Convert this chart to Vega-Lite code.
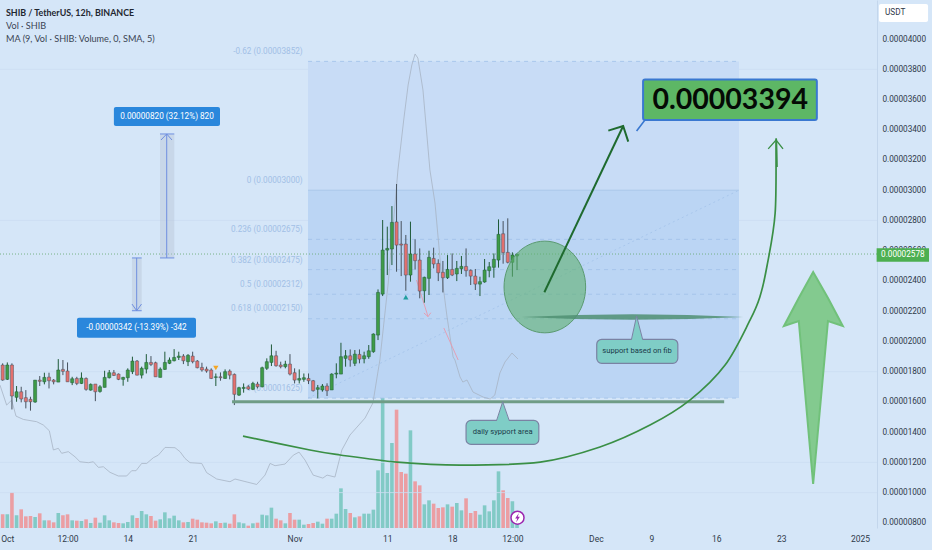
{"$schema":"https://vega.github.io/schema/vega-lite/v6.json","width":877,"height":528,"autosize":"none","padding":{"left":0,"top":0,"right":55,"bottom":22},"background":"#d5e6f8","config":{"view":{"stroke":null},"axis":{"labelOverlap":false}},
"datasets":{
"candles":[
{"t":0,"o":1844,"h":1855,"l":1740,"c":1744,"v":41},{"t":1,"o":1749,"h":1861,"l":1745,"c":1844,"v":41},{"t":2,"o":1844,"h":1855,"l":1550,"c":1639,"v":106},{"t":3,"o":1630,"h":1705,"l":1601,"c":1667,"v":38},{"t":4,"o":1667,"h":1700,"l":1597,"c":1619,"v":56},{"t":5,"o":1628,"h":1678,"l":1557,"c":1601,"v":35},{"t":6,"o":1617,"h":1634,"l":1542,"c":1601,"v":36},{"t":7,"o":1599,"h":1744,"l":1594,"c":1744,"v":33},{"t":8,"o":1744,"h":1771,"l":1705,"c":1736,"v":44},{"t":9,"o":1733,"h":1793,"l":1716,"c":1762,"v":23},
{"t":10,"o":1764,"h":1793,"l":1689,"c":1740,"v":23},{"t":11,"o":1744,"h":1751,"l":1716,"c":1733,"v":17},{"t":12,"o":1731,"h":1883,"l":1731,"c":1811,"v":45},{"t":13,"o":1815,"h":1877,"l":1777,"c":1802,"v":38},{"t":14,"o":1804,"h":1861,"l":1733,"c":1733,"v":41},{"t":15,"o":1727,"h":1766,"l":1711,"c":1753,"v":23},{"t":16,"o":1755,"h":1766,"l":1711,"c":1722,"v":22},{"t":17,"o":1722,"h":1795,"l":1718,"c":1758,"v":21},{"t":18,"o":1755,"h":1762,"l":1674,"c":1683,"v":26},{"t":19,"o":1678,"h":1722,"l":1674,"c":1716,"v":15},
{"t":20,"o":1718,"h":1718,"l":1605,"c":1667,"v":31},{"t":21,"o":1669,"h":1711,"l":1661,"c":1700,"v":16},{"t":22,"o":1696,"h":1806,"l":1696,"c":1762,"v":38},{"t":23,"o":1760,"h":1811,"l":1755,"c":1793,"v":23},{"t":24,"o":1793,"h":1811,"l":1771,"c":1775,"v":17},{"t":25,"o":1784,"h":1788,"l":1744,"c":1749,"v":15},{"t":26,"o":1749,"h":1766,"l":1707,"c":1762,"v":14},{"t":27,"o":1760,"h":1822,"l":1733,"c":1811,"v":18},{"t":28,"o":1800,"h":1899,"l":1784,"c":1870,"v":38},{"t":29,"o":1870,"h":1877,"l":1775,"c":1777,"v":30},
{"t":30,"o":1777,"h":1833,"l":1755,"c":1822,"v":51},{"t":31,"o":1817,"h":1916,"l":1788,"c":1861,"v":41},{"t":32,"o":1861,"h":1903,"l":1837,"c":1848,"v":36},{"t":33,"o":1859,"h":1866,"l":1766,"c":1766,"v":22},{"t":34,"o":1762,"h":1828,"l":1762,"c":1817,"v":26},{"t":35,"o":1815,"h":1932,"l":1811,"c":1861,"v":47},{"t":36,"o":1855,"h":1894,"l":1850,"c":1877,"v":29},{"t":37,"o":1872,"h":1949,"l":1868,"c":1894,"v":37},{"t":38,"o":1894,"h":1932,"l":1877,"c":1903,"v":23},{"t":39,"o":1903,"h":1916,"l":1850,"c":1872,"v":17},
{"t":40,"o":1866,"h":1916,"l":1837,"c":1908,"v":18},{"t":41,"o":1903,"h":1932,"l":1855,"c":1866,"v":28},{"t":42,"o":1870,"h":1877,"l":1822,"c":1826,"v":25},{"t":43,"o":1828,"h":1859,"l":1800,"c":1811,"v":17},{"t":44,"o":1817,"h":1833,"l":1793,"c":1804,"v":16},{"t":45,"o":1811,"h":1822,"l":1751,"c":1755,"v":14},{"t":46,"o":1762,"h":1788,"l":1705,"c":1766,"v":20},{"t":47,"o":1766,"h":1795,"l":1740,"c":1760,"v":15},{"t":48,"o":1755,"h":1815,"l":1753,"c":1800,"v":16},{"t":49,"o":1804,"h":1815,"l":1749,"c":1777,"v":13},
{"t":50,"o":1782,"h":1788,"l":1579,"c":1650,"v":41},{"t":51,"o":1645,"h":1700,"l":1639,"c":1694,"v":17},{"t":52,"o":1689,"h":1722,"l":1661,"c":1696,"v":14},{"t":53,"o":1700,"h":1711,"l":1678,"c":1685,"v":7},{"t":54,"o":1683,"h":1733,"l":1678,"c":1722,"v":14},{"t":55,"o":1718,"h":1733,"l":1689,"c":1700,"v":16},{"t":56,"o":1700,"h":1833,"l":1696,"c":1826,"v":40},{"t":57,"o":1822,"h":1888,"l":1811,"c":1866,"v":38},{"t":58,"o":1861,"h":1980,"l":1837,"c":1905,"v":61},{"t":59,"o":1905,"h":1938,"l":1833,"c":1839,"v":28},
{"t":60,"o":1844,"h":1866,"l":1822,"c":1833,"v":23},{"t":61,"o":1833,"h":1872,"l":1822,"c":1850,"v":14},{"t":62,"o":1850,"h":1916,"l":1775,"c":1784,"v":45},{"t":63,"o":1793,"h":1822,"l":1722,"c":1744,"v":25},{"t":64,"o":1744,"h":1815,"l":1722,"c":1755,"v":25},{"t":65,"o":1749,"h":1788,"l":1733,"c":1760,"v":10},{"t":66,"o":1755,"h":1788,"l":1718,"c":1740,"v":12},{"t":67,"o":1740,"h":1745,"l":1668,"c":1674,"v":15},{"t":68,"o":1683,"h":1712,"l":1623,"c":1694,"v":19},{"t":69,"o":1679,"h":1718,"l":1668,"c":1705,"v":13},
{"t":70,"o":1705,"h":1723,"l":1639,"c":1674,"v":28},{"t":71,"o":1679,"h":1789,"l":1679,"c":1784,"v":28},{"t":72,"o":1784,"h":1855,"l":1756,"c":1790,"v":43},{"t":73,"o":1784,"h":1991,"l":1784,"c":1899,"v":119},{"t":74,"o":1888,"h":1943,"l":1833,"c":1905,"v":57},{"t":75,"o":1905,"h":1947,"l":1833,"c":1877,"v":45},{"t":76,"o":1855,"h":1943,"l":1837,"c":1916,"v":32},{"t":77,"o":1914,"h":1947,"l":1855,"c":1883,"v":35},{"t":78,"o":1885,"h":1932,"l":1855,"c":1905,"v":43},{"t":79,"o":1899,"h":1976,"l":1885,"c":1938,"v":43},
{"t":80,"o":1932,"h":2053,"l":1925,"c":2049,"v":55},{"t":81,"o":2042,"h":2344,"l":2009,"c":2324,"v":173},{"t":82,"o":2313,"h":2803,"l":2300,"c":2604,"v":395},{"t":83,"o":2604,"h":2759,"l":2439,"c":2615,"v":165},{"t":84,"o":2611,"h":2895,"l":2505,"c":2787,"v":255},{"t":85,"o":2790,"h":3041,"l":2461,"c":2637,"v":355},{"t":86,"o":2644,"h":2796,"l":2432,"c":2637,"v":168},{"t":87,"o":2644,"h":2704,"l":2335,"c":2439,"v":163},{"t":88,"o":2439,"h":2792,"l":2395,"c":2578,"v":293},{"t":89,"o":2578,"h":2675,"l":2476,"c":2534,"v":140},
{"t":90,"o":2538,"h":2615,"l":2285,"c":2333,"v":128},{"t":91,"o":2335,"h":2428,"l":2256,"c":2424,"v":71},{"t":92,"o":2417,"h":2600,"l":2307,"c":2556,"v":83},{"t":93,"o":2549,"h":2620,"l":2483,"c":2512,"v":73},{"t":94,"o":2516,"h":2543,"l":2399,"c":2454,"v":60},{"t":95,"o":2457,"h":2532,"l":2324,"c":2421,"v":62},{"t":96,"o":2421,"h":2571,"l":2413,"c":2476,"v":71},{"t":97,"o":2476,"h":2582,"l":2432,"c":2439,"v":64},{"t":98,"o":2446,"h":2532,"l":2399,"c":2483,"v":75},{"t":99,"o":2481,"h":2565,"l":2446,"c":2496,"v":53},
{"t":100,"o":2496,"h":2615,"l":2428,"c":2468,"v":89},{"t":101,"o":2470,"h":2476,"l":2373,"c":2432,"v":45},{"t":102,"o":2432,"h":2479,"l":2340,"c":2379,"v":51},{"t":103,"o":2379,"h":2428,"l":2300,"c":2395,"v":40},{"t":104,"o":2393,"h":2545,"l":2388,"c":2472,"v":68},{"t":105,"o":2468,"h":2525,"l":2424,"c":2494,"v":50},{"t":106,"o":2490,"h":2582,"l":2421,"c":2543,"v":83},{"t":107,"o":2538,"h":2807,"l":2488,"c":2708,"v":170},{"t":108,"o":2712,"h":2796,"l":2514,"c":2587,"v":113},{"t":109,"o":2589,"h":2814,"l":2516,"c":2523,"v":90},
{"t":110,"o":2523,"h":2589,"l":2428,"c":2571,"v":80},{"t":111,"o":2565,"h":2578,"l":2472,"c":2578,"v":38}],
"ma":[{"t":-0.58,"p":1711},{"t":0.86,"p":1579},{"t":1.94,"p":1612},{"t":2.88,"p":1506},{"t":4.46,"p":1484},{"t":7.34,"p":1469},{"t":8.78,"p":1447},{"t":10.07,"p":1409},{"t":10.94,"p":1282},{"t":12.01,"p":1293},{"t":12.73,"p":1260},{"t":14.17,"p":1271},{"t":15.61,"p":1237},{"t":16.69,"p":1204},{"t":18.49,"p":1198},{"t":19.57,"p":1204},{"t":20.65,"p":1167},{"t":21.73,"p":1171},{"t":23.17,"p":1134},{"t":24.96,"p":1110},{"t":26.76,"p":1110},{"t":27.84,"p":1145},{"t":28.78,"p":1145},{"t":30,"p":1193},{"t":31.08,"p":1193},{"t":32.52,"p":1231},{"t":33.6,"p":1248},{"t":35.04,"p":1299},{"t":37.19,"p":1297},{"t":38.27,"p":1271},{"t":39.35,"p":1226},{"t":40.43,"p":1198},{"t":42.95,"p":1193},{"t":44.03,"p":1132},{"t":46.19,"p":1090},{"t":49.06,"p":1072},{"t":50.14,"p":1090},{"t":54.82,"p":1054},{"t":56.62,"p":1116},{"t":57.7,"p":1193},{"t":58.78,"p":1178},{"t":60.94,"p":1189},{"t":62.73,"p":1248},{"t":63.96,"p":1268},{"t":65.25,"p":1215},{"t":66.33,"p":1154},{"t":67,"p":1116},{"t":69.1,"p":1096},{"t":70,"p":1116},{"t":71.7,"p":1103},{"t":73.2,"p":1282},{"t":74.95,"p":1381},{"t":78.2,"p":1493},{"t":79.9,"p":1593},{"t":81.4,"p":1877},{"t":83.2,"p":2386},{"t":85.3,"p":3134},{"t":86.6,"p":3478},{"t":87.5,"p":3696},{"t":88.3,"p":3828},{"t":89,"p":3901},{"t":89.6,"p":3874},{"t":90.7,"p":3663},{"t":92.2,"p":3134},{"t":93.3,"p":2915},{"t":94.6,"p":2472},{"t":95.9,"p":2161},{"t":97.2,"p":1897},{"t":97.6,"p":1877},{"t":98.7,"p":1765},{"t":99.3,"p":1731},{"t":100.2,"p":1745},{"t":101.5,"p":1665},{"t":103.7,"p":1632},{"t":105.2,"p":1619},{"t":106.2,"p":1645},{"t":107.3,"p":1791},{"t":108.4,"p":1864},{"t":109.9,"p":1923},{"t":111.2,"p":1884}],
"curve":[{"g":"c","t":51.86,"p":1374},{"g":"c","t":66.3,"p":1282},{"g":"c","t":72.8,"p":1249},{"g":"c","t":85.1,"p":1202},{"g":"c","t":98.7,"p":1182},{"g":"c","t":116,"p":1202},{"g":"c","t":128.9,"p":1302},{"g":"c","t":139.7,"p":1447},{"g":"c","t":148.3,"p":1612},{"g":"c","t":155.9,"p":1844},{"g":"c","t":161.3,"p":2142},{"g":"c","t":163.4,"p":2294},{"g":"c","t":164.9,"p":2492},{"g":"c","t":166.7,"p":2849},{"g":"c","t":167.1,"p":3153},{"g":"c","t":166.9,"p":3332}],
"curvehead":[{"t":165.2,"p":3273},{"t":166.9,"p":3332},{"t":168.4,"p":3273}],
"dark":[{"g":"s","t":116.9,"p":2325},{"g":"s","t":133.9,"p":3425},{"g":"h","t":130.7,"p":3394},{"g":"h","t":133.9,"p":3425},{"g":"h","t":135,"p":3321}],
"measure":[{"g":"a","t":35.4,"p":3372},{"g":"a","t":35.4,"p":2552},{"g":"b","t":34.17,"p":3332},{"g":"b","t":35.4,"p":3372},{"g":"b","t":36.54,"p":3332},{"g":"c","t":33.95,"p":3372},{"g":"c","t":37.04,"p":3372},{"g":"d","t":33.95,"p":2552},{"g":"d","t":37.04,"p":2552},{"g":"e","t":28.92,"p":2552},{"g":"e","t":28.92,"p":2203},{"g":"f","t":27.91,"p":2247},{"g":"f","t":28.92,"p":2203},{"g":"f","t":29.96,"p":2247},{"g":"k","t":27.9,"p":2552},{"g":"k","t":30,"p":2552},{"g":"m","t":27.9,"p":2203},{"g":"m","t":30,"p":2203}],
"shade":[{"t":33.95,"t2":37.04,"p":3372,"p2":2552},{"t":27.9,"t2":30,"p":2552,"p2":2203}],
"bluebox":[{"t":24,"t2":46.9,"p":3550,"p2":3425},{"t":16.04,"t2":41.72,"p":2157,"p2":2024}],
"bluetext":[{"t":35.46,"p":3487,"text":"0.00000820 (32.12%) 820"},{"t":28.88,"p":2091,"text":"-0.00000342 (-13.39%) -342"}],
"fibupper":[{"t":65.9,"t2":158.9,"p":3852,"p2":3000}],"fiblower":[{"t":65.9,"t2":158.9,"p":3000,"p2":1625}],
"fiblevels":[{"t":65.9,"t2":158.9,"p":3852},{"t":65.9,"t2":158.9,"p":2675},{"t":65.9,"t2":158.9,"p":2475},{"t":65.9,"t2":158.9,"p":2312},{"t":65.9,"t2":158.9,"p":2150},{"t":65.9,"t2":158.9,"p":1625}],
"fibtext":[{"t":64.75,"p":3914,"text":"-0.62 (0.00003852)"},{"t":64.75,"p":3061,"text":"0 (0.00003000)"},{"t":64.75,"p":2737,"text":"0.236 (0.00002675)"},{"t":64.75,"p":2534,"text":"0.382 (0.00002475)"},{"t":64.75,"p":2373,"text":"0.5 (0.00002312)"},{"t":64.75,"p":2214,"text":"0.618 (0.00002150)"},{"t":64.75,"p":1685,"text":"1 (0.00001625)"}],
"grid":[{"p":3800},{"p":2800},{"p":1800},{"p":1200},{"p":1000}],
"diag":[{"t":65.9,"p":1625},{"t":158.9,"p":3000}],
"pink":[{"g":"a","t":89.3,"p":2406},{"g":"a","t":91.8,"p":2164},{"g":"b","t":90.9,"p":2188},{"g":"b","t":91.8,"p":2164},{"g":"b","t":92.4,"p":2190},{"g":"m","t":95.2,"p":2089},{"g":"m","t":98.3,"p":1877}],
"bigarrow":[{"t":168.6,"p":2102,"p2":2102},{"t":171.8,"p":2287,"p2":2135},{"t":174.9,"p":2459,"p2":1057},{"t":178.1,"p":2287,"p2":2135},{"t":181.3,"p":2102,"p2":2102}],
"ptrgreenedge":[{"t":138.6,"p":3464},{"t":136.8,"p":3392},{"t":140.1,"p":3464}],
"bigbox":[{"t":138.2,"t2":175.7,"p":3733,"p2":3464}],
"bigtext":[{"t":157,"p":3599,"text":"0.00003394"}],
"tealbox":[{"t":128.2,"t2":145.7,"p":2014,"p2":1855},{"t":100,"t2":115.7,"p":1478,"p2":1319}],
"tealptr":[{"g":"f","t":135.7,"p":2008,"p2":2008},{"g":"f","t":136.8,"p":2168,"p2":2008},{"g":"f","t":138.1,"p":2008,"p2":2008},{"g":"d","t":106.6,"p":1472,"p2":1472},{"g":"d","t":107.9,"p":1601,"p2":1472},{"g":"d","t":109.3,"p":1472,"p2":1472}],
"tealedge":[{"g":"f","t":135.7,"p":2014},{"g":"f","t":136.8,"p":2168},{"g":"f","t":138.1,"p":2014},{"g":"d","t":106.6,"p":1478},{"g":"d","t":107.9,"p":1601},{"g":"d","t":109.3,"p":1478}],
"tealtext":[{"t":136.9,"p":1935,"text":"support based on fib"},{"t":107.9,"p":1399,"text":"daily sypport area"}],
"support":[{"t":49.5,"t2":155.7,"p":1601}],
"circle":[{"t":117,"p":2360}],"lens":[{"t":135.9,"p":2161}],
"upmark":[{"t":87,"p":2293}],"downmark":[{"t":46,"p":1824}],
"last":[{"p":2578}],
"pricebox":[{"t":188.6,"t2":199.9,"p":2616,"p2":2527}],"pricetext":[{"t":194.25,"p":2572,"text":"0.00002578"}],
"unitbox":[{"t":189.1,"t2":199.7,"p":4231,"p2":4112}],"unittext":[{"t":190.4,"p":4172,"text":"USDT"}],
"header":[{"t":0.72,"p":4172,"text":"SHIB / TetherUS, 12h, BINANCE"}],
"legend":[{"t":0.72,"p":4086,"text":"Vol · SHIB"},{"t":0.72,"p":4000,"text":"MA (9, Vol · SHIB: Volume, 0, SMA, 5)"}],
"icon":[{"t":111.1,"p":834}]
},
"resolve":{"scale":{"y":"independent","fill":"independent","stroke":"independent"}},
"layer":[
{"data":{"name":"candles"},"mark":{"type":"bar","width":3.6},"encoding":{
"x":{"field":"t","type":"quantitative","title":null,"scale":{"domain":[-0.576,188.68],"nice":false,"zero":false,"padding":0},"axis":{"values":[1,14,27,41,63,83,97,110,128,140,154,168,185],"labelExpr":"{'1':'Oct','14':'12:00','27':'14','41':'21','63':'Nov','83':'11','97':'18','110':'12:00','128':'Dec','140':'9','154':'16','168':'23','185':'2025'}[datum.value]","grid":false,"domain":false,"ticks":false,"labelOverlap":false,"labelFlush":false,"labelBound":false,"labelFont":"Roboto","labelFontSize":8.5,"labelColor":"#2f3a4a","labelPadding":6}},
"y":{"field":"v","type":"quantitative","title":null,"scale":{"domain":[0,1584],"nice":false,"zero":true},"axis":null},
"fill":{"field":"dir","type":"nominal","scale":{"domain":["up","down"],"range":["#82cac6","#eb9ea3"]},"legend":null}},"transform":[{"calculate":"datum.c>=datum.o?'up':'down'","as":"dir"}]},
{"layer":[
{"data":{"name":"grid"},"mark":{"type":"rule","color":"#cbddf2","strokeWidth":0.8},"encoding":{"y":{"field":"p","type":"quantitative","title":null,"scale":{"domain":[766,4258],"nice":false,"zero":false},"axis":{"orient":"right","tickCount":20,"values":[800,1000,1200,1400,1600,1800,2000,2200,2400,2600,2800,3000,3200,3400,3600,3800,4000],"labelExpr":"format(datum.value/100000000,'.8f')","grid":false,"ticks":false,"domain":true,"domainColor":"#c3d6ec","labelFont":"Roboto","labelFontSize":8.2,"labelColor":"#2f3a4a","labelPadding":5,"labelOverlap":false,"labelBound":false,"labelFlush":false}}}},
{"data":{"name":"fibupper"},"mark":{"type":"rect","color":"#c8dcf6"},"encoding":{"x":{"field":"t","type":"quantitative"},"x2":{"field":"t2"},"y":{"field":"p","type":"quantitative"},"y2":{"field":"p2"}}},
{"data":{"name":"fiblower"},"mark":{"type":"rect","color":"#bbd5f4"},"encoding":{"x":{"field":"t","type":"quantitative"},"x2":{"field":"t2"},"y":{"field":"p","type":"quantitative"},"y2":{"field":"p2"}}},
{"data":{"name":"fiblevels"},"mark":{"type":"rule","color":"#9fc0e8","strokeWidth":0.8,"strokeDash":[4,4]},"encoding":{"x":{"field":"t","type":"quantitative"},"x2":{"field":"t2"},"y":{"field":"p","type":"quantitative"}}},
{"data":{"values":[{"t":65.9,"t2":158.9,"p":3000}]},"mark":{"type":"rule","color":"#a6c4e8","strokeWidth":0.9},"encoding":{"x":{"field":"t","type":"quantitative"},"x2":{"field":"t2"},"y":{"field":"p","type":"quantitative"}}},
{"data":{"name":"diag"},"mark":{"type":"line","color":"#a3c3ea","strokeWidth":0.8,"strokeDash":[2,3]},"encoding":{"x":{"field":"t","type":"quantitative"},"y":{"field":"p","type":"quantitative"}}},
{"data":{"name":"fibtext"},"mark":{"type":"text","font":"Roboto","fontSize":8.2,"align":"right","baseline":"middle","color":"#a2c0e6"},"encoding":{"x":{"field":"t","type":"quantitative"},"y":{"field":"p","type":"quantitative"},"text":{"field":"text"}}},
{"data":{"name":"last"},"mark":{"type":"rule","color":"#6dab78","strokeWidth":0.9,"strokeDash":[1,2]},"encoding":{"y":{"field":"p","type":"quantitative"}}},
{"data":{"name":"ma"},"mark":{"type":"line","color":"#a7b4c4","strokeWidth":0.8},"encoding":{"x":{"field":"t","type":"quantitative"},"y":{"field":"p","type":"quantitative"},"order":null}},
{"data":{"name":"pink"},"mark":{"type":"line","color":"#e79aae","strokeWidth":0.9},"encoding":{"x":{"field":"t","type":"quantitative"},"y":{"field":"p","type":"quantitative"},"detail":{"field":"g"},"order":null}},
{"data":{"name":"candles"},"transform":[{"calculate":"datum.c>=datum.o?'up':'down'","as":"dir"}],"mark":{"type":"rule","strokeWidth":1},"encoding":{"x":{"field":"t","type":"quantitative"},"y":{"field":"l","type":"quantitative"},"y2":{"field":"h"},"stroke":{"field":"dir","type":"nominal","scale":{"domain":["up","down"],"range":["#1f5a38","#47525e"]},"legend":null}}},
{"data":{"name":"candles"},"transform":[{"calculate":"datum.c>=datum.o?'up':'down'","as":"dir"}],"mark":{"type":"bar","width":3.1,"strokeWidth":0.5},"encoding":{"x":{"field":"t","type":"quantitative"},"y":{"field":"o","type":"quantitative"},"y2":{"field":"c"},"fill":{"field":"dir","type":"nominal","scale":{"domain":["up","down"],"range":["#3f9b47","#e4706e"]},"legend":null},"stroke":{"field":"dir","type":"nominal"}}},
{"data":{"name":"shade"},"mark":{"type":"rect","color":"#b9c6d8","opacity":0.45},"encoding":{"x":{"field":"t","type":"quantitative"},"x2":{"field":"t2"},"y":{"field":"p","type":"quantitative"},"y2":{"field":"p2"}}},
{"data":{"name":"measure"},"mark":{"type":"line","color":"#6f8fe0","strokeWidth":1},"encoding":{"x":{"field":"t","type":"quantitative"},"y":{"field":"p","type":"quantitative"},"detail":{"field":"g"},"order":null}},
{"data":{"name":"bluebox"},"mark":{"type":"rect","color":"#2a87dc","cornerRadius":2},"encoding":{"x":{"field":"t","type":"quantitative"},"x2":{"field":"t2"},"y":{"field":"p","type":"quantitative"},"y2":{"field":"p2"}}},
{"data":{"name":"bluetext"},"mark":{"type":"text","font":"Roboto","fontSize":8.2,"align":"center","baseline":"middle","color":"#ffffff"},"encoding":{"x":{"field":"t","type":"quantitative"},"y":{"field":"p","type":"quantitative"},"text":{"field":"text"}}},
{"data":{"name":"support"},"mark":{"type":"rule","color":"#6f9c86","strokeWidth":3},"encoding":{"x":{"field":"t","type":"quantitative"},"x2":{"field":"t2"},"y":{"field":"p","type":"quantitative"}}},
{"data":{"name":"curve"},"mark":{"type":"line","color":"#3a8f45","strokeWidth":1.7,"interpolate":"cardinal"},"encoding":{"x":{"field":"t","type":"quantitative"},"y":{"field":"p","type":"quantitative"},"order":null}},
{"data":{"name":"curvehead"},"mark":{"type":"line","color":"#3a8f45","strokeWidth":1.3},"encoding":{"x":{"field":"t","type":"quantitative"},"y":{"field":"p","type":"quantitative"},"order":null}},
{"data":{"name":"circle"},"mark":{"type":"point","filled":true,"shape":"M-0.89,0A0.89,1,0,1,1,0.89,0A0.89,1,0,1,1,-0.89,0Z","size":8409,"fill":"#5fb06f","fillOpacity":0.6,"stroke":"#5a9a70","strokeWidth":1,"strokeOpacity":1},"encoding":{"x":{"field":"t","type":"quantitative"},"y":{"field":"p","type":"quantitative"}}},
{"data":{"name":"lens"},"mark":{"type":"point","filled":true,"shape":"M-1,0Q0,-0.05,1,0Q0,0.05,-1,0Z","size":49107,"fill":"#4f8f72","fillOpacity":0.85,"strokeWidth":0},"encoding":{"x":{"field":"t","type":"quantitative"},"y":{"field":"p","type":"quantitative"}}},
{"data":{"name":"dark"},"mark":{"type":"line","color":"#1e6a2e","strokeWidth":2},"encoding":{"x":{"field":"t","type":"quantitative"},"y":{"field":"p","type":"quantitative"},"detail":{"field":"g"},"order":null}},
{"data":{"name":"bigarrow"},"mark":{"type":"area","fill":"#7fc98a","stroke":"#6cc074","strokeWidth":2,"opacity":0.95},"encoding":{"x":{"field":"t","type":"quantitative"},"y":{"field":"p","type":"quantitative"},"y2":{"field":"p2"}}},
{"data":{"name":"ptrgreenedge"},"mark":{"type":"line","color":"#3a78d0","strokeWidth":1.6},"encoding":{"x":{"field":"t","type":"quantitative"},"y":{"field":"p","type":"quantitative"},"order":null}},
{"data":{"name":"bigbox"},"mark":{"type":"rect","fill":"#5db765","stroke":"#3a78d0","strokeWidth":2,"cornerRadius":2},"encoding":{"x":{"field":"t","type":"quantitative"},"x2":{"field":"t2"},"y":{"field":"p","type":"quantitative"},"y2":{"field":"p2"}}},
{"data":{"name":"bigtext"},"mark":{"type":"text","font":"Lato","fontWeight":"bold","fontSize":28.5,"align":"center","baseline":"middle","color":"#050a05"},"encoding":{"x":{"field":"t","type":"quantitative"},"y":{"field":"p","type":"quantitative"},"text":{"field":"text"}}},
{"data":{"name":"tealbox"},"mark":{"type":"rect","fill":"#7fcdc6","stroke":"#7a82a3","strokeWidth":1.2,"cornerRadius":5},"encoding":{"x":{"field":"t","type":"quantitative"},"x2":{"field":"t2"},"y":{"field":"p","type":"quantitative"},"y2":{"field":"p2"}}},
{"data":{"name":"tealptr"},"mark":{"type":"area","fill":"#7fcdc6"},"encoding":{"x":{"field":"t","type":"quantitative"},"y":{"field":"p","type":"quantitative"},"y2":{"field":"p2"},"detail":{"field":"g"}}},
{"data":{"name":"tealedge"},"mark":{"type":"line","color":"#7a82a3","strokeWidth":1},"encoding":{"x":{"field":"t","type":"quantitative"},"y":{"field":"p","type":"quantitative"},"detail":{"field":"g"},"order":null}},
{"data":{"name":"tealtext"},"mark":{"type":"text","font":"Roboto","fontSize":7.6,"align":"center","baseline":"middle","color":"#1b3a4a"},"encoding":{"x":{"field":"t","type":"quantitative"},"y":{"field":"p","type":"quantitative"},"text":{"field":"text"}}},
{"data":{"name":"upmark"},"mark":{"type":"point","filled":true,"shape":"triangle-up","size":28,"color":"#1f9e9e","opacity":1},"encoding":{"x":{"field":"t","type":"quantitative"},"y":{"field":"p","type":"quantitative"}}},
{"data":{"name":"downmark"},"mark":{"type":"point","filled":true,"shape":"triangle-down","size":28,"color":"#f5a623","opacity":1},"encoding":{"x":{"field":"t","type":"quantitative"},"y":{"field":"p","type":"quantitative"}}},
{"data":{"name":"icon"},"mark":{"type":"point","filled":true,"shape":"circle","size":170,"fill":"#ffffff","stroke":"#9c27b0","strokeWidth":1.5,"opacity":1},"encoding":{"x":{"field":"t","type":"quantitative"},"y":{"field":"p","type":"quantitative"}}},
{"data":{"name":"icon"},"mark":{"type":"point","filled":true,"shape":"M0.3,-1L-0.5,0.15L-0.05,0.15L-0.3,1L0.5,-0.2L0.05,-0.2Z","size":90,"fill":"#9c27b0","opacity":1},"encoding":{"x":{"field":"t","type":"quantitative"},"y":{"field":"p","type":"quantitative"}}},
{"data":{"name":"pricebox"},"mark":{"type":"rect","color":"#4caf50"},"encoding":{"x":{"field":"t","type":"quantitative"},"x2":{"field":"t2"},"y":{"field":"p","type":"quantitative"},"y2":{"field":"p2"}}},
{"data":{"name":"pricetext"},"mark":{"type":"text","font":"Roboto","fontSize":8.2,"align":"center","baseline":"middle","color":"#ffffff"},"encoding":{"x":{"field":"t","type":"quantitative"},"y":{"field":"p","type":"quantitative"},"text":{"field":"text"}}},
{"data":{"name":"unitbox"},"mark":{"type":"rect","color":"#ffffff","cornerRadius":2},"encoding":{"x":{"field":"t","type":"quantitative"},"x2":{"field":"t2"},"y":{"field":"p","type":"quantitative"},"y2":{"field":"p2"}}},
{"data":{"name":"unittext"},"mark":{"type":"text","font":"Roboto","fontSize":8.2,"align":"left","baseline":"middle","color":"#2f3a4a"},"encoding":{"x":{"field":"t","type":"quantitative"},"y":{"field":"p","type":"quantitative"},"text":{"field":"text"}}},
{"data":{"name":"header"},"mark":{"type":"text","font":"Lato","fontWeight":"bold","fontSize":8.9,"align":"left","baseline":"middle","color":"#1f2630"},"encoding":{"x":{"field":"t","type":"quantitative"},"y":{"field":"p","type":"quantitative"},"text":{"field":"text"}}},
{"data":{"name":"legend"},"mark":{"type":"text","font":"Lato","fontSize":9.1,"align":"left","baseline":"middle","color":"#3a4453"},"encoding":{"x":{"field":"t","type":"quantitative"},"y":{"field":"p","type":"quantitative"},"text":{"field":"text"}}}
]}
]}
